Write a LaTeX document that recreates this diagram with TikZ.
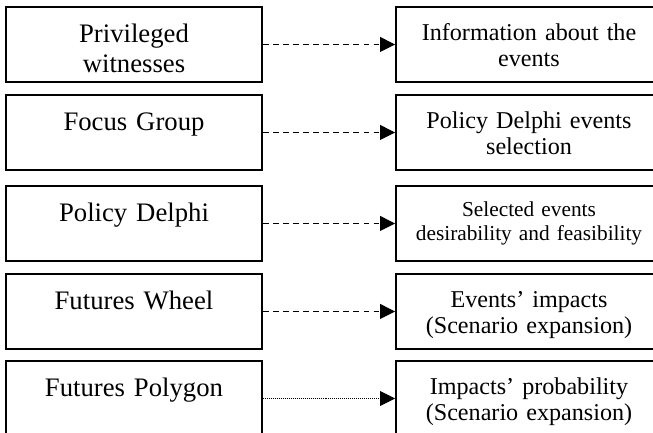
\documentclass[tikz,border=0pt]{standalone}
\usepackage{fontspec}
\setmainfont{Liberation Serif}
\usetikzlibrary{arrows.meta}

\begin{document}
\begin{tikzpicture}[line width=1.3pt,
  mbox/.style={draw=black, minimum width=7.68cm, minimum height=2.25cm, inner sep=0pt},
  obox/.style={draw=black, minimum width=7.98cm, minimum height=2.25cm, inner sep=0pt},
  mtxt/.style={anchor=base, align=center, text width=7cm, inner sep=0pt, font=\fontsize{22.8}{25.6}\selectfont},
  otxt/.style={anchor=base, align=center, text width=7.6cm, inner sep=0pt, font=\fontsize{20.6}{22.2}\selectfont},
  arr/.style={-{Triangle[length=12.8pt,width=12.5pt]}, line width=1.2pt, dash pattern=on 5pt off 3.6pt},
  dotarr/.style={arr, line width=0.9pt, dash pattern=on 0.85pt off 0.85pt}]
\useasboundingbox (0,0) rectangle (19.59,12.99);
\clip (0,0) rectangle (19.59,12.99);
% ---- methods (left column)
\node[mbox] (pw) at (4.02,11.655) {};
\node[mbox] (fg) at (4.02,9.015) {};
\node[mbox] (pd) at (4.02,6.285) {};
\node[mbox] (fw) at (4.02,3.645) {};
\node[mbox] (fp) at (4.02,1.035) {};
\node[mtxt] (pwt) at ([yshift=-1.08cm]pw.north) {Privileged\\ witnesses};
\node[mtxt] (fgt) at ([yshift=-1.08cm]fg.north) {Focus Group};
\node[mtxt] (pdt) at ([yshift=-1.08cm]pd.north) {Policy Delphi};
\node[mtxt] (fwt) at ([yshift=-1.08cm]fw.north) {Futures Wheel};
\node[mtxt] (fpt) at ([yshift=-1.08cm]fp.north) {Futures Polygon};
% ---- outputs (right column, cut at the page edge)
\node[obox] (info) at (15.87,11.655) {};
\node[obox] (sel) at (15.87,9.015) {};
\node[obox] (des) at (15.87,6.285) {};
\node[obox] (imp) at (15.87,3.645) {};
\node[obox] (prob) at (15.87,1.035) {};
\node[otxt] (infot) at ([yshift=-1.02cm]info.north) {Information about the\\ events};
\node[otxt] (selt) at ([yshift=-1.02cm]sel.north) {Policy Delphi events\\ selection};
\node[otxt, font=\fontsize{18.2}{20.5}\selectfont] (dest) at ([yshift=-0.93cm]des.north) {Selected events\\ desirability and feasibility};
\node[otxt] (impt) at ([yshift=-1.02cm]imp.north) {Events' impacts\\ (Scenario expansion)};
\node[otxt] (probt) at ([yshift=-1.02cm]prob.north) {Impacts' probability\\ (Scenario expansion)};
% ---- links
\draw[arr] (pw.east) -- (info.west);
\draw[arr] (fg.east) -- (sel.west);
\draw[arr] (pd.east) -- (des.west);
\draw[arr] (fw.east) -- (imp.west);
\draw[dotarr] (fp.east) -- (prob.west);
\end{tikzpicture}
\end{document}
